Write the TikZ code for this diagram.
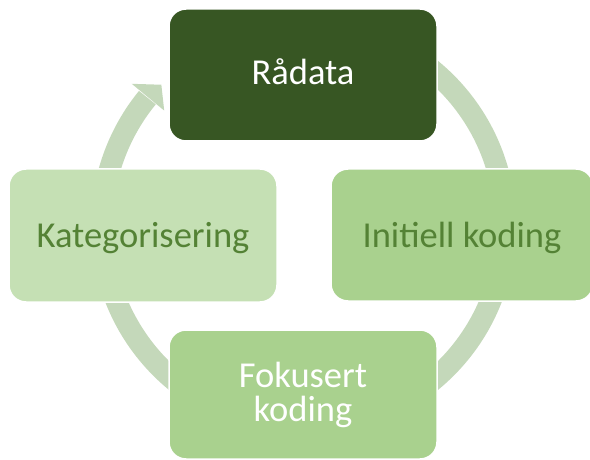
\documentclass[tikz,border=0pt]{standalone}
\usepackage{fontspec}
\setmainfont{Carlito}
\definecolor{darkgreen}{HTML}{375623}
\definecolor{midgreen}{HTML}{A9D18E}
\definecolor{lightgreen}{HTML}{C5E0B4}
\definecolor{ringgreen}{HTML}{C4D8BA}
\definecolor{textgreen}{HTML}{548235}
\begin{document}
\begin{tikzpicture}[x=1pt,y=1pt,
  box/.style={rectangle, rounded corners=17pt, draw=white, line width=1.5pt,
    minimum width=268pt, minimum height=132pt, inner sep=0pt,
    font=\fontsize{36.5}{34}\selectfont},
  ring/.style={draw=ringgreen, line width=21.5pt},
  ringhead/.style={fill=ringgreen},
]
\useasboundingbox (0,0) rectangle (590,-460);
\clip (0,0) rectangle (590,-460);
\coordinate (c) at (303.5,-225.4);
\draw[ring] ([shift={(90:201.75)}]c) arc[start angle=90, end angle=-219.3, radius=201.75];
\path[ringhead] ([shift={(140.5:222.6)}]c) -- ([shift={(135.3:200)}]c) -- ([shift={(140.5:180.5)}]c) -- cycle;
\node[box, fill=darkgreen, text=white, text height=20pt, text depth=0pt] (raw) at (303,-75) {Rådata};
\node[box, fill=lightgreen, text=textgreen, minimum height=133pt, text height=23pt, text depth=0pt] (kat) at (143,-235.5) {Kategorisering};
\node[box, fill=midgreen, text=textgreen, minimum width=262pt, text height=24pt, text depth=0pt] (ini) at (462,-235) {Initiell koding};
\node[box, fill=midgreen, text=white, minimum height=129pt, align=center] (fok) at (303,-394.5) {Fokusert\\koding};
\end{tikzpicture}
\end{document}
